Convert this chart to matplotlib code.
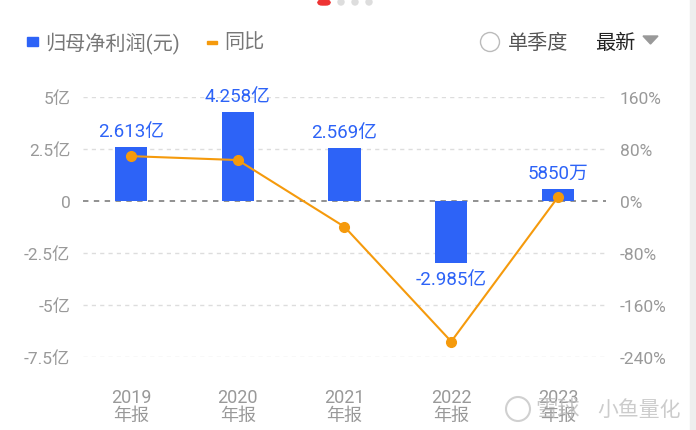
# 归母净利润 vs 同比 chart
import matplotlib
matplotlib.use("Agg")
from matplotlib import pyplot as plt
from matplotlib.patches import Rectangle, Ellipse, FancyBboxPatch, Polygon

plt.rcParams['font.family'] = ['Roboto', 'Noto Sans CJK SC', 'DejaVu Sans']

# Data
years = ['2019', '2020', '2021', '2022', '2023']
profit = [2.613, 4.258, 2.569, -2.985, 0.585]          # 亿元
profit_labels = ['2.613亿', '4.258亿', '2.569亿', '-2.985亿', '5850万']
yoy = [69, 63, -39.7, -216.2, 6]                       # %
left_ticks = [5, 2.5, 0, -2.5, -5, -7.5]
left_tick_labels = ['5亿', '2.5亿', '0', '-2.5亿', '-5亿', '-7.5亿']
right_ticks = [160, 80, 0, -80, -160, -240]
right_tick_labels = ['160%', '80%', '0%', '-80%', '-160%', '-240%']

blue = '#2d63f7'
orange = '#f59a0c'
gray = '#999999'

W, H = 696, 431
fig = plt.figure(figsize=(W / 100, H / 100), dpi=100)
ax = fig.add_axes([83 / W, 1 - 358 / H, (606 - 83) / W, (358 - 98) / H])
ax2 = ax.twinx()

x = list(range(len(years)))
ax.bar(x, profit, width=0.30, color=blue, zorder=3)
for i, (v, lab) in enumerate(zip(profit, profit_labels)):
    if v >= 0:
        ax.annotate(lab, (i, v), xytext=(0, 5), textcoords='offset points',
                    ha='center', va='bottom', color=blue, fontsize=13.5)
    else:
        ax.annotate(lab, (i, v), xytext=(0, -5), textcoords='offset points',
                    ha='center', va='top', color=blue, fontsize=13.5)

ax.set_xlim(-0.45, 4.45)
ax.set_ylim(-7.5, 5)
ax2.set_ylim(-240, 160)

ax2.plot(x, yoy, color=orange, lw=1.5, marker='o', ms=7, zorder=4)

# grid lines
for t in left_ticks:
    if t == 0:
        ax.axhline(0, color='#888888', lw=1.3, ls=(0, (3, 3)), zorder=2)
    else:
        ax.axhline(t, color='#dddddd', lw=1.0, ls=(0, (3, 3)), zorder=1)

ax.set_yticks(left_ticks)
ax.set_yticklabels(left_tick_labels)
ax2.set_yticks(right_ticks)
ax2.set_yticklabels(right_tick_labels)
ax.set_xticks(x)
ax.set_xticklabels([y + '\n年报' for y in years], linespacing=1.0)

for a in (ax, ax2):
    for s in a.spines.values():
        s.set_visible(False)
    a.tick_params(length=0, colors=gray, labelsize=12.5)
ax.tick_params(axis='y', pad=9)
ax2.tick_params(axis='y', pad=10)
ax.tick_params(axis='x', pad=22, labelsize=13)
ax2.set_zorder(ax.get_zorder() + 1)
ax2.patch.set_visible(False)

# top legend / controls
fig.patches.append(Rectangle((27 / W, 1 - 47 / H), 11 / W, 9 / H,
                             transform=fig.transFigure, color=blue))
fig.text(45 / W, 1 - 43 / H, '归母净利润(元)', color='#777777', fontsize=14.5, va='center')
fig.patches.append(Rectangle((207 / W, 1 - 44.5 / H), 10 / W, 3 / H,
                             transform=fig.transFigure, color=orange))
fig.text(224 / W, 1 - 43 / H, '同比', color='#777777', fontsize=14.5, va='center')
fig.patches.append(Ellipse((490 / W, 1 - 43 / H), 19 / W, 19 / H, transform=fig.transFigure,
                           fill=False, ec='#bbbbbb', lw=1.0))
fig.text(508 / W, 1 - 43 / H, '单季度', color='#555555', fontsize=14.5, va='center')
fig.text(595 / W, 1 - 43 / H, '最新', color='#222222', fontsize=14.5, va='center')
fig.patches.append(Polygon([[643 / W, 1 - 37 / H], [658 / W, 1 - 37 / H], [650.5 / W, 1 - 45 / H]],
                           closed=True, transform=fig.transFigure, color='#999999'))

# pager dots
fig.patches.append(FancyBboxPatch((318 / W, 1 - 6 / H), 12 / W, 5 / H,
                                  boxstyle='round,pad=0,rounding_size=0.006',
                                  transform=fig.transFigure, color='#ee3333'))
for cx in (341, 355, 369):
    fig.patches.append(Ellipse((cx / W, 1 - 3 / H), 6 / W, 6 / H, transform=fig.transFigure,
                               color='#dddddd'))

# right gray strip
fig.patches.append(Rectangle((690 / W, 0), 6 / W, 1, transform=fig.transFigure,
                             color='#eeeeee'))

# watermark
fig.patches.append(Ellipse((518 / W, 1 - 410 / H), 24 / W, 24 / H, transform=fig.transFigure,
                           fill=False, ec='#d0d0d0', lw=1.5))
fig.text(535 / W, 1 - 410 / H, '雪球', color='#bbbbbb', fontsize=16, va='center', alpha=0.8)
fig.text(597 / W, 1 - 410 / H, '小鱼量化', color='#cccccc', fontsize=15, va='center')

fig.savefig('out.png', dpi=100)
